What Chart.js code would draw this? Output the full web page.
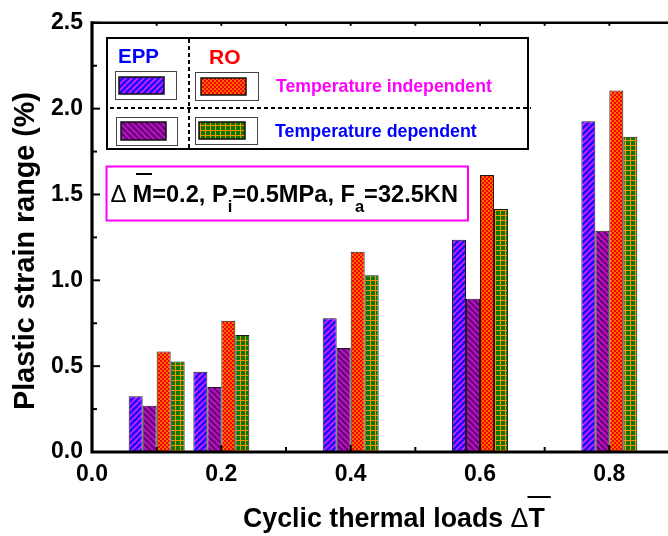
<!DOCTYPE html>
<html lang="en">
<head>
    <meta charset="UTF-8">
    <title>Plastic strain range vs cyclic thermal loads</title>
    <script src="https://cdn.jsdelivr.net/npm/chart.js@4.4.0/dist/chart.umd.min.js"></script>
    <style>
        html, body {
            margin: 0;
            padding: 0;
            background: #fff;
            overflow: hidden;
        }
    </style>
</head>
<body>
    <canvas id="strainChart" width="674" height="536"></canvas>
    <script>
        // Data
        const thermalLoads = [0.1, 0.2, 0.4, 0.6, 0.8];
        const eppIndependent = [0.325, 0.468, 0.779, 1.237, 1.927];
        const eppDependent = [0.27, 0.379, 0.606, 0.893, 1.289];
        const roIndependent = [0.585, 0.764, 1.166, 1.613, 2.105];
        const roDependent = [0.527, 0.681, 1.03, 1.416, 1.836];
        const xTickValues = [0, 0.2, 0.4, 0.6, 0.8];
        const yTickValues = [0, 0.5, 1.0, 1.5, 2.0, 2.5];

        const FONT = 'Arial, "Liberation Sans", sans-serif';

        function makePattern(size, draw) {
            const c = document.createElement('canvas');
            c.width = size;
            c.height = size;
            const g = c.getContext('2d');
            draw(g, size);
            return document.getElementById('strainChart').getContext('2d').createPattern(c, 'repeat');
        }

        function diagonal(base, line, rising) {
            return makePattern(6, (g, s) => {
                g.fillStyle = base;
                g.fillRect(0, 0, s, s);
                g.strokeStyle = line;
                g.lineWidth = 1.6;
                for (let k = -1; k <= 1; k++) {
                    g.beginPath();
                    if (rising) {
                        g.moveTo(k * s, s);
                        g.lineTo(k * s + s, 0);
                    } else {
                        g.moveTo(k * s, 0);
                        g.lineTo(k * s + s, s);
                    }
                    g.stroke();
                }
            });
        }

        const bluePattern = diagonal('#1a10ff', '#e020ff', true);
        const purplePattern = diagonal('#b010c0', '#58005e', false);
        const orangePattern = makePattern(4, (g) => {
            g.fillStyle = '#ff6a00';
            g.fillRect(0, 0, 4, 4);
            g.fillStyle = '#f80000';
            g.fillRect(0, 0, 2, 2);
            g.fillRect(2, 2, 2, 2);
        });
        const greenPattern = makePattern(5, (g) => {
            g.fillStyle = '#ff9000';
            g.fillRect(0, 0, 5, 5);
            g.fillStyle = '#087800';
            g.fillRect(1, 1, 4, 4);
        });

        const toPoints = arr => arr.map((v, i) => ({ x: thermalLoads[i], y: v }));

        // draws text pieces side by side, fitted to a target width
        function drawRuns(ctx, runs, x, y, targetW) {
            let w = 0;
            runs.forEach(r => {
                ctx.font = r.weight + ' ' + (100 * (r.rel || 1)) + 'px ' + FONT;
                w += ctx.measureText(r.text).width;
            });
            const base = 100 * targetW / w;
            let cx = x;
            const spans = [];
            runs.forEach(r => {
                const size = base * (r.rel || 1);
                ctx.font = r.weight + ' ' + size + 'px ' + FONT;
                ctx.fillStyle = r.color || '#000';
                ctx.fillText(r.text, cx, y + (r.dy || 0) * base);
                const rw = ctx.measureText(r.text).width;
                spans.push({ x0: cx, x1: cx + rw, size: base });
                cx += rw;
            });
            return spans;
        }

        const framePlugin = {
            id: 'frame',
            afterDraw(chart) {
                const ctx = chart.ctx;
                const xs = chart.scales.x;
                const ys = chart.scales.y;
                const a = chart.chartArea;
                ctx.save();
                ctx.strokeStyle = '#000';
                ctx.lineCap = 'butt';

                // ticks
                ctx.lineWidth = 2;
                for (let i = 0; i <= 10; i++) {
                    const py = ys.getPixelForValue(i * 0.25);
                    const len = i % 2 === 0 ? 8 : 5;
                    ctx.beginPath();
                    ctx.moveTo(a.left, py);
                    ctx.lineTo(a.left + len, py);
                    ctx.stroke();
                }
                for (let i = 1; i <= 9; i++) {
                    const px = xs.getPixelForValue(i * 0.1);
                    const len = i % 2 === 0 ? 7 : 5;
                    ctx.beginPath();
                    ctx.moveTo(px, a.bottom);
                    ctx.lineTo(px, a.bottom - len);
                    ctx.stroke();
                    ctx.beginPath();
                    ctx.moveTo(px, a.top);
                    ctx.lineTo(px, a.top + 3);
                    ctx.stroke();
                }

                // axis lines
                ctx.lineWidth = 3.2;
                ctx.beginPath();
                ctx.moveTo(a.left, a.top - 1.5);
                ctx.lineTo(a.left, a.bottom + 1.5);
                ctx.moveTo(a.left, a.bottom);
                ctx.lineTo(a.right, a.bottom);
                ctx.stroke();
                ctx.lineWidth = 2.6;
                ctx.beginPath();
                ctx.moveTo(a.left, a.top);
                ctx.lineTo(a.right, a.top);
                ctx.stroke();

                // legend box
                ctx.lineWidth = 2;
                ctx.strokeRect(107, 38, 421, 111);
                ctx.setLineDash([4, 3]);
                ctx.beginPath();
                ctx.moveTo(189, 39);
                ctx.lineTo(189, 148);
                ctx.moveTo(110, 108);
                ctx.lineTo(531, 108);
                ctx.stroke();
                ctx.setLineDash([]);

                ctx.textBaseline = 'alphabetic';
                ctx.textAlign = 'left';
                drawRuns(ctx, [{ text: 'EPP', weight: 'bold', color: '#0000ff' }], 118, 63, 41);
                drawRuns(ctx, [{ text: 'RO', weight: 'bold', color: '#ff0000' }], 209, 64, 31.5);

                const swatches = [
                    [115, 71, 61, 28, 119, 77, 45, 17, bluePattern],
                    [195, 72, 63, 28, 201, 78, 45, 17, orangePattern],
                    [116, 117, 61, 28, 121, 122, 45, 18, purplePattern],
                    [195, 117, 62, 27, 199, 122, 46, 17, greenPattern]
                ];
                swatches.forEach(s => {
                    ctx.lineWidth = 1;
                    ctx.strokeStyle = '#444';
                    ctx.strokeRect(s[0] + 0.5, s[1] + 0.5, s[2], s[3]);
                    ctx.fillStyle = s[8];
                    ctx.fillRect(s[4], s[5], s[6], s[7]);
                    ctx.strokeStyle = '#111';
                    ctx.lineWidth = 1.5;
                    ctx.strokeRect(s[4], s[5], s[6], s[7]);
                });

                drawRuns(ctx, [{ text: 'Temperature independent', weight: 'bold', color: '#ff00ff' }], 276, 91.5, 216);
                drawRuns(ctx, [{ text: 'Temperature dependent', weight: 'bold', color: '#0000ff' }], 275, 137, 202);

                // condition box
                ctx.strokeStyle = '#ff00ff';
                ctx.lineWidth = 2;
                ctx.strokeRect(106.5, 166.5, 361.5, 54);
                ctx.fillStyle = '#000';
                ctx.font = 'normal 24px ' + FONT;
                ctx.fillText('\u0394', 110.5, 201.5);
                drawRuns(ctx, [
                    { text: 'M=0.2, P', weight: 'bold' },
                    { text: 'i', weight: 'bold', rel: 0.7, dy: 0.43 },
                    { text: '=0.5MPa, F', weight: 'bold' },
                    { text: 'a', weight: 'bold', rel: 0.7, dy: 0.43 },
                    { text: '=32.5KN', weight: 'bold' }
                ], 132.5, 201.5, 325.5);
                ctx.strokeStyle = '#000';
                ctx.lineWidth = 2;
                ctx.beginPath();
                ctx.moveTo(136, 174);
                ctx.lineTo(152, 174);
                ctx.stroke();

                // axis titles
                const xt = drawRuns(ctx, [
                    { text: 'Cyclic thermal loads ', weight: 'bold' },
                    { text: '\u0394', weight: 'normal' },
                    { text: 'T', weight: 'bold' }
                ], 243, 527, 302);
                ctx.beginPath();
                ctx.moveTo(xt[2].x0 - 1, 497);
                ctx.lineTo(xt[2].x1 + 6, 497);
                ctx.stroke();

                ctx.translate(34, 410);
                ctx.rotate(-Math.PI / 2);
                drawRuns(ctx, [{ text: 'Plastic strain range (%)', weight: 'bold' }], 0, 0, 318);
                ctx.restore();
            }
        };

        const barStyle = {
            borderColor: '#1a1a1a',
            borderWidth: 1,
            categoryPercentage: 0.865,
            barPercentage: 1.0
        };

        new Chart(document.getElementById('strainChart'), {
            type: 'bar',
            data: {
                datasets: [
                    Object.assign({ label: 'EPP temperature independent', data: toPoints(eppIndependent), backgroundColor: bluePattern }, barStyle),
                    Object.assign({ label: 'EPP temperature dependent', data: toPoints(eppDependent), backgroundColor: purplePattern }, barStyle),
                    Object.assign({ label: 'RO temperature independent', data: toPoints(roIndependent), backgroundColor: orangePattern }, barStyle),
                    Object.assign({ label: 'RO temperature dependent', data: toPoints(roDependent), backgroundColor: greenPattern }, barStyle)
                ]
            },
            options: {
                responsive: false,
                animation: false,
                layout: { padding: { top: 19, left: 0, right: 0, bottom: 0 } },
                plugins: {
                    legend: { display: false },
                    tooltip: { enabled: false }
                },
                scales: {
                    x: {
                        type: 'linear',
                        offset: false,
                        min: 0,
                        max: 0.9,
                        grid: { display: false, drawTicks: false, offset: false },
                        border: { display: false },
                        afterBuildTicks: s => { s.ticks = xTickValues.map(v => ({ value: v })); },
                        afterFit: s => { s.height = 84; },
                        ticks: {
                            padding: 9,
                            color: '#000',
                            font: { family: FONT, size: 23, weight: 'bold' },
                            callback: v => Number(v).toFixed(1)
                        }
                    },
                    y: {
                        min: 0,
                        max: 2.5,
                        grid: { display: false, drawTicks: false },
                        border: { display: false },
                        afterBuildTicks: s => { s.ticks = yTickValues.map(v => ({ value: v })); },
                        afterFit: s => { s.width = 92; },
                        ticks: {
                            padding: 9,
                            color: '#000',
                            font: { family: FONT, size: 23, weight: 'bold' },
                            callback: v => Number(v).toFixed(1)
                        }
                    }
                }
            },
            plugins: [framePlugin]
        });
    </script>
</body>
</html>
